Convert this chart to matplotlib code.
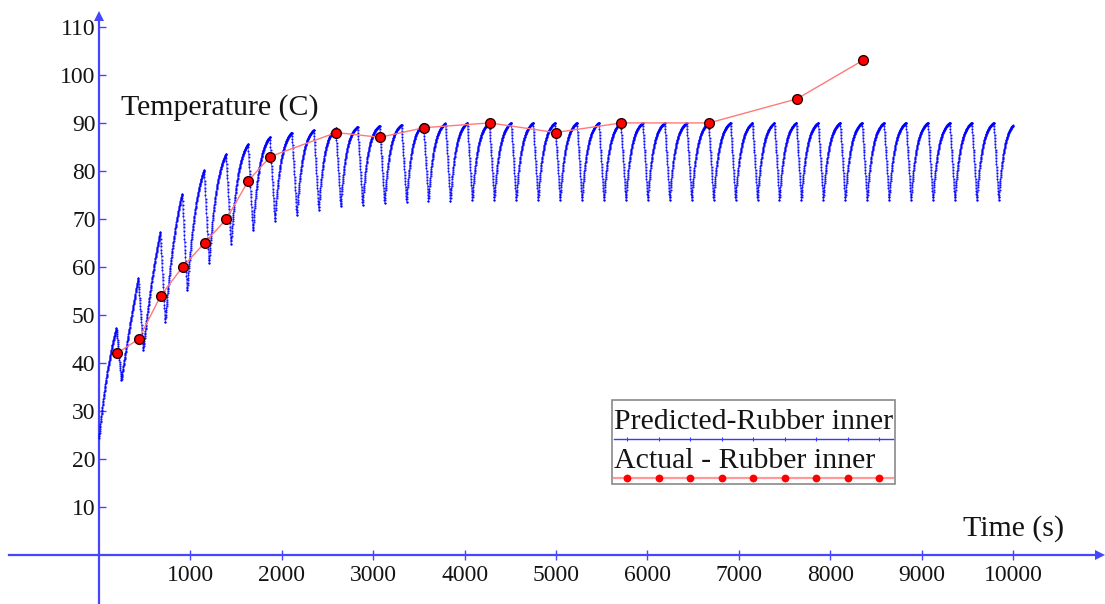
import numpy as np
import matplotlib
matplotlib.use("Agg")
import matplotlib.pyplot as plt
import matplotlib.transforms as mtransforms
from matplotlib.patches import Rectangle
from matplotlib.lines import Line2D

# ---------------------------------------------------------------
# Measured temperature of the inner rubber layer
# ---------------------------------------------------------------
actual_time = [195, 435, 675, 915, 1155, 1395, 1635, 1875, 2595, 3075,
               3555, 4275, 4995, 5715, 6675, 7635, 8355]
actual_temp = [42, 45, 54, 60, 65, 70, 78, 83, 88, 87,
               89, 90, 88, 90, 90, 95, 103]

# ---------------------------------------------------------------
# Predicted temperature: heating/cooling cycles
# ---------------------------------------------------------------
pred_start_temp = 24.4
pred_end_time = 10000
cooling_duration = 55          # seconds from a peak down to the next trough

# time of each temperature peak (s)
peak_time = [190, 430, 670, 910, 1150, 1390, 1630, 1870, 2110, 2350,
             2590, 2830, 3070, 3310, 3550, 3790, 4030, 4270, 4510, 4750,
             4990, 5230, 5470, 5710, 5950, 6190, 6430, 6670, 6910, 7150,
             7390, 7630, 7870, 8110, 8350, 8590, 8830, 9070, 9310, 9550,
             9790, 10030]
# peak temperature of each cycle (the last one lies past the end time)
peak_temp = [47.2, 57.6, 67.2, 75.2, 80.2, 83.5, 85.6, 87.1, 88.0, 88.5,
             88.9, 89.2, 89.4, 89.6, 89.8, 89.9, 90.0, 90.0, 90.0, 90.0,
             90.0, 90.0, 90.0, 90.0, 90.0, 90.0, 90.0, 90.0, 90.0, 90.0,
             90.0, 90.0, 90.0, 90.0, 90.0, 90.0, 90.0, 90.0, 90.0, 90.0,
             90.0, 90.0]
# trough temperature reached after each peak
trough_temp = [36.5, 42.8, 48.6, 55.1, 60.8, 64.8, 67.6, 69.6, 70.8, 71.9,
               72.6, 72.9, 73.3, 73.5, 73.7, 73.8, 74.0, 74.0, 74.0, 74.0,
               74.0, 74.0, 74.0, 74.0, 74.0, 74.0, 74.0, 74.0, 74.0, 74.0,
               74.0, 74.0, 74.0, 74.0, 74.0, 74.0, 74.0, 74.0, 74.0, 74.0,
               74.0]
# temperature halfway through each heating phase
mid_rise_temp = [38.5, 47.7, 57.0, 65.6, 72.4, 77.4, 80.6, 82.8, 84.3, 85.1,
                 85.7, 86.2, 86.4, 86.7, 86.9, 87.0, 87.1, 87.1, 87.1, 87.1,
                 87.1, 87.1, 87.1, 87.1, 87.1, 87.1, 87.1, 87.1, 87.1, 87.1,
                 87.1, 87.1, 87.1, 87.1, 87.1, 87.1, 87.1, 87.1, 87.1, 87.1,
                 87.1, 87.1]

x_ticks = [1000, 2000, 3000, 4000, 5000, 6000, 7000, 8000, 9000, 10000]
y_ticks = [10, 20, 30, 40, 50, 60, 70, 80, 90, 100, 110]


def heating_branch(t0, t1, lo, mid, hi, step=2.0):
    """Concave heating curve from (t0, lo) to (t1, hi) passing through mid at half time."""
    n = max(int((t1 - t0) / step), 2)
    s = np.linspace(0.0, 1.0, n)
    f = (mid - lo) / (hi - lo)
    c = -2.0 * np.log(1.0 / f - 1.0)
    if abs(c) < 1e-6:
        g = s
    else:
        g = (1.0 - np.exp(-c * s)) / (1.0 - np.exp(-c))
    return t0 + s * (t1 - t0), lo + g * (hi - lo)


def cooling_branch(t0, t1, hi, lo, step=2.0):
    n = max(int((t1 - t0) / step), 2)
    s = np.linspace(0.0, 1.0, n)
    return t0 + s * (t1 - t0), hi + s * (lo - hi)


seg_t, seg_T = [], []
start_t, start_T = 0.0, pred_start_temp
for k in range(len(peak_time)):
    tt, TT = heating_branch(start_t, peak_time[k], start_T,
                            mid_rise_temp[k], peak_temp[k])
    seg_t.append(tt)
    seg_T.append(TT)
    if k < len(trough_temp):
        t_tr = peak_time[k] + cooling_duration
        tt, TT = cooling_branch(peak_time[k], t_tr, peak_temp[k], trough_temp[k])
        seg_t.append(tt)
        seg_T.append(TT)
        start_t, start_T = t_tr, trough_temp[k]
pred_t = np.concatenate(seg_t)
pred_T = np.concatenate(seg_T)
keep = pred_t <= pred_end_time
pred_t, pred_T = pred_t[keep], pred_T[keep]

# ---------------------------------------------------------------
# Figure
# ---------------------------------------------------------------
W, H = 1105, 604
serif = "Liberation Serif"
axis_blue = "#4646ff"
text_col = "#141414"

fig = plt.figure(figsize=(W / 100, H / 100), dpi=100)
ax = fig.add_axes([0, 0, 1, 1])
ax.set_xlim(-1083, 11007)
ax.set_ylim(-10.2, 115.6)

for side in ("top", "right"):
    ax.spines[side].set_visible(False)
ax.spines["left"].set_position(("data", 0))
ax.spines["bottom"].set_position(("data", 0))
ax.spines["left"].set_bounds(-10.2, 111.5)
ax.spines["bottom"].set_bounds(-985, 10900)
for side in ("left", "bottom"):
    ax.spines[side].set_color(axis_blue)
    ax.spines[side].set_linewidth(1.6)

# arrow heads at the ends of the axes
ax.plot([0], [112.2], marker="^", ms=6.5, color=axis_blue, mew=0, clip_on=False)
ax.plot([10950], [0], marker=">", ms=6.5, color=axis_blue, mew=0, clip_on=False)

ax.set_xticks(x_ticks)
ax.set_yticks(y_ticks)
ax.set_xticklabels([str(v) for v in x_ticks])
ax.set_yticklabels([str(v) for v in y_ticks])
ax.tick_params(axis="x", direction="inout", length=7, width=1, color=axis_blue,
               pad=3.5, labelsize=17, labelcolor=text_col)
ax.tick_params(axis="y", direction="in", length=5, width=1, color=axis_blue,
               pad=2.5, labelsize=17, labelcolor=text_col)
for lab in ax.get_xticklabels() + ax.get_yticklabels():
    lab.set_fontfamily(serif)

# predicted curve: thin connecting line plus the dense computed points
ax.plot(pred_t, pred_T, color="#0000ff", lw=0.6, alpha=0.5, zorder=3)
ax.plot(pred_t, pred_T, ls="none", marker="o", ms=1.5, mfc="#0000ff",
        mec="none", alpha=0.9, zorder=3)

# measured values
ax.plot(actual_time, actual_temp, color="#ff7a7a", lw=1.0, zorder=4)
ax.plot(actual_time, actual_temp, ls="none", marker="o", ms=7, mfc="#ff0000",
        mec="#2a0000", mew=1.0, zorder=5)

ax.text(240, 93.1, "Temperature (C)", fontsize=21.5, family=serif,
        color=text_col, ha="left", va="center")
ax.text(9450, 5.6, "Time (s)", fontsize=21.5, family=serif,
        color=text_col, ha="left", va="center")

# legend drawn in pixel space
pix = mtransforms.Affine2D().scale(1 / W, -1 / H).translate(0, 1) + fig.transFigure
fig.add_artist(Rectangle((612, 400), 283, 84, transform=pix, fill=False,
                         edgecolor="#8a8a8a", lw=1.2))
fig.text(614, 422, "Predicted-Rubber inner", transform=pix, fontsize=21.5,
         family=serif, color=text_col, ha="left", va="center")
fig.text(614, 461, "Actual - Rubber inner", transform=pix, fontsize=21.5,
         family=serif, color=text_col, ha="left", va="center")
key_x = [627, 658.5, 690, 721.5, 753, 784.5, 816, 847.5, 879]
fig.add_artist(Line2D([614, 893], [439, 439], transform=pix, color="#3a3aff",
                      lw=1.0))
fig.add_artist(Line2D(key_x, [439] * len(key_x), transform=pix, ls="none",
                      marker="|", ms=2.5, mew=0.8, color="#3a3aff"))
fig.add_artist(Line2D([614, 893], [478, 478], transform=pix, color="#ff9a9a",
                      lw=1.6))
fig.add_artist(Line2D(key_x, [478] * len(key_x), transform=pix, ls="none",
                      marker="o", ms=4.6, mfc="#ff0000", mec="#ff0000"))

fig.savefig("out.png", dpi=100)
